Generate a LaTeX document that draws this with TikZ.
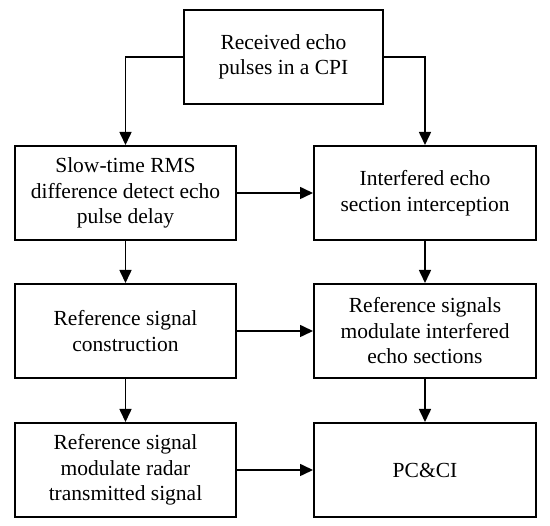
\documentclass[tikz,border=0pt]{standalone}
\usepackage{fontspec}
\setmainfont{Liberation Serif}
\usetikzlibrary{arrows.meta}
\tikzset{
  box/.style={draw, line width=2pt, align=center, inner sep=0pt,
    font=\fontsize{21.5}{25.5}\selectfont},
  conn/.style={line width=1.6pt, -{Triangle[length=13pt,width=12pt]}}
}
\begin{document}
\begin{tikzpicture}[x=1pt,y=-1pt]
\useasboundingbox (0,0) rectangle (550,526);
\node[box, minimum width=199pt, minimum height=94pt] (top) at (283.5,57) {Received echo\\pulses in a CPI};
\node[box, minimum width=221pt, minimum height=94pt] (l2) at (125.5,193) {Slow-time RMS\\difference detect echo\\pulse delay};
\node[box, minimum width=222pt, minimum height=94pt] (r2) at (425,193) {Interfered echo\\section interception};
\node[box, minimum width=221pt, minimum height=94pt] (l3) at (125.5,331) {Reference signal\\construction};
\node[box, minimum width=222pt, minimum height=94pt] (r3) at (425,331) {Reference signals\\modulate interfered\\echo sections};
\node[box, minimum width=221pt, minimum height=94pt] (l4) at (125.5,470) {Reference signal\\modulate radar\\transmitted signal};
\node[box, minimum width=222pt, minimum height=94pt] (r4) at (425,470) {PC\&CI};
\draw[conn] (top.west) -| (l2.north);
\draw[conn] (top.east) -| (r2.north);
\draw[conn] (l2) -- (r2);
\draw[conn] (l3) -- (r3);
\draw[conn] (l4) -- (r4);
\draw[conn] (l2) -- (l3);
\draw[conn] (l3) -- (l4);
\draw[conn] (r2) -- (r3);
\draw[conn] (r3) -- (r4);
\end{tikzpicture}
\end{document}
